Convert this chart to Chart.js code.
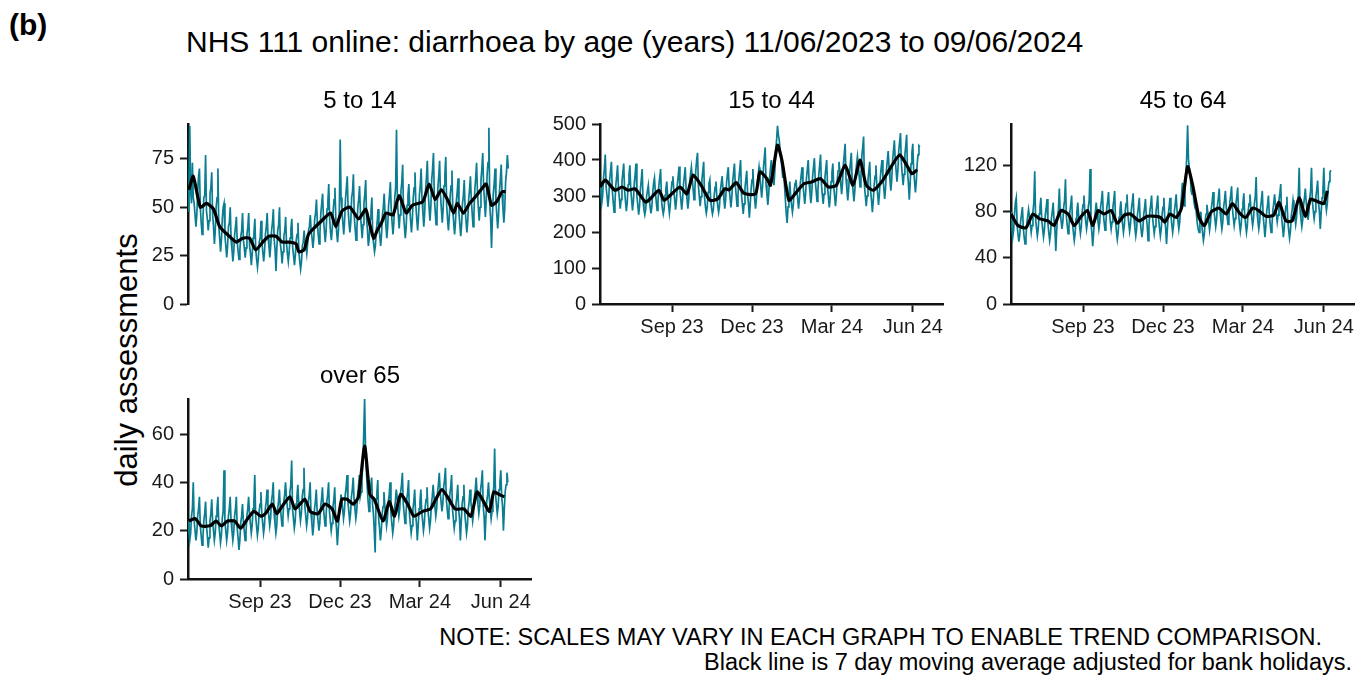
<!DOCTYPE html>
<html>
<head>
<meta charset="utf-8">
<script src="https://cdn.jsdelivr.net/npm/chart.js@4.4.0/dist/chart.umd.min.js"></script>
<style>
  body { margin: 0; width: 1357px; height: 678px; background: #fff; position: relative; overflow: hidden;
         font-family: "Liberation Sans", Arial, sans-serif; color: #000; }
  .t { position: absolute; white-space: nowrap; line-height: 1.15; }
  canvas { position: absolute; }
</style>
</head>
<body>
<div class="t" style="left:9px;top:8px;font-size:30px;font-weight:bold">(b)</div>
<div class="t" style="left:186px;top:25px;font-size:30px">NHS 111 online: diarrhoea by age (years) 11/06/2023 to 09/06/2024</div>
<div class="t" style="left:127px;top:360px;font-size:31px;transform:translate(-50%,-50%) rotate(-90deg)">daily assessments</div>
<div class="t" style="right:35px;top:624px;font-size:23.5px">NOTE: SCALES MAY VARY IN EACH GRAPH TO ENABLE TREND COMPARISON.</div>
<div class="t" style="right:5px;top:649px;font-size:23.5px">Black line is 7 day moving average adjusted for bank holidays.</div>

<script>
// day index 0 = 11/06/2023, last = 09/06/2024 (364)
const tickDays = [82, 173, 264, 356];
const tickLabels = ['Sep 23', 'Dec 23', 'Mar 24', 'Jun 24'];

// 5 to 14 -- daily assessments (one row per week)
const age5to14 = [
  48,60,92,58,52,73,55,  52,46,40,46,58,66,70,  50,42,36,44,55,56,77,  48,44,38,43,57,60,68,
  46,40,31,38,50,55,70,  40,34,27,33,44,50,52,  35,30,24,30,40,42,50,  33,28,22,27,36,40,45,
  32,27,23,28,35,38,47,  33,29,24,29,36,40,47,  30,26,20,26,34,37,44,  28,23,19,24,32,34,43,
  32,27,22,27,36,40,47,  34,30,24,30,38,42,49,  33,28,17,29,38,41,50,  31,27,21,27,35,38,45,
  31,26,22,27,34,39,44,  29,25,20,25,33,36,42,  27,22,18,22,30,32,38,  31,30,26,31,38,40,46,
  38,34,29,34,44,47,54,  42,36,31,37,47,52,57,  44,38,32,38,49,53,62,  44,37,33,39,48,54,60,
  44,37,32,38,48,85,55,  48,42,36,43,54,60,66,  49,42,37,42,55,58,67,  45,39,33,39,50,54,61,
  47,40,34,41,52,57,64,  44,38,30,34,44,48,55,  35,31,27,30,38,42,49,  40,35,30,36,46,50,57,
  46,40,34,40,51,56,63,  49,42,36,42,55,60,90,  53,46,39,46,58,63,72,  46,40,34,40,51,56,62,
  50,43,37,44,55,60,68,  51,44,38,45,56,61,70,  54,47,40,47,59,65,74,  58,50,43,50,64,70,78,
  55,48,41,48,60,66,74,  56,49,42,49,61,67,76,  51,44,38,45,56,61,69,  48,42,36,42,53,58,65,
  47,41,35,41,52,56,64,  49,43,37,43,54,59,66,  54,47,40,47,59,65,73,  58,50,43,50,64,70,78,
  61,53,45,53,67,73,91,  51,44,29,45,57,62,70,  53,46,39,46,58,64,72,  57,49,42,49,63,68,77,
  70
];
const age5to14MaDays = [1,6,14,21,29,36,47,55,62,70,77,85,92,100,107,115,123,126,132,137,145,152,162,168,175,184,194,202,205,211,215,220,225,233,240,248,255,267,274,281,288,296,302,306,313,320,326,333,339,345,351,357,361];
const age5to14MaVals = [59,66,50,52,49,40,35,32,34,34,28,32,35,35,32,32,31,27,28,36,40,43,47,40,48,50,44,49,44,34,38,42,47,46,56,47,51,53,62,54,59,53,47,52,47,52,55,59,62,51,53,58,58];

// 15 to 44
const age15to44 = [
  330,310,280,300,350,375,415,  325,300,270,295,345,370,395,  315,285,255,280,330,355,385,  320,295,265,290,340,365,390,
  315,285,258,282,332,358,385,  318,290,260,285,335,360,390,  300,275,248,272,320,345,375,  285,262,248,262,298,315,330,
  295,270,252,270,310,335,350,  312,285,260,285,330,352,375,  288,265,250,265,302,320,340,  300,275,252,275,316,340,355,
  316,290,262,288,332,355,382,  315,290,262,290,333,356,380,  318,292,265,290,335,360,380,  350,318,290,320,370,400,420,
  328,300,272,298,345,370,395,  295,270,252,268,310,335,345,  288,265,250,262,302,325,340,  298,272,255,272,315,335,355,
  318,292,265,290,335,360,380,  322,296,268,295,340,365,390,  330,302,272,300,348,372,400,  305,278,250,278,322,346,370,
  304,278,240,278,320,345,375,  318,292,265,292,335,358,380,  355,325,295,325,378,405,435,  332,305,275,305,350,375,400,
  370,350,330,370,430,455,495,  470,455,430,400,380,350,380,  330,290,250,225,270,300,340,  300,275,255,275,315,335,345,
  318,292,265,292,335,358,380,  332,305,278,305,350,375,400,  336,308,280,308,355,380,405,  342,315,285,315,360,385,415,
  333,305,278,305,352,376,400,  324,296,268,296,340,365,390,  328,300,272,300,345,370,395,  368,335,305,335,388,415,445,
  348,318,288,318,365,392,420,  342,315,285,315,362,388,410,  385,355,325,355,410,435,465,  328,300,272,300,345,370,395,
  315,288,255,285,330,355,385,  332,305,275,305,350,378,400,  352,322,292,322,372,398,425,  378,345,315,345,398,425,455,
  402,370,340,370,425,450,475,  392,360,330,360,415,440,470,  368,335,290,335,390,420,445,  370,340,310,340,390,415,440,
  437
];
const age15to44MaDays = [0,6,17,25,32,40,52,59,67,73,80,91,99,106,115,125,134,142,147,155,164,177,182,190,194,202,207,215,222,232,241,251,260,269,279,288,296,303,311,322,330,341,349,355,361];
const age15to44MaVals = [325,344,316,325,316,320,283,297,316,288,302,325,306,358,330,288,292,320,317,337,307,306,367,348,330,441,400,288,306,334,339,348,325,330,386,330,400,330,316,344,376,414,386,362,373];

// 45 to 64
const age45to64 = [
  80,66,58,64,78,88,92,  68,60,54,60,72,78,84,  66,58,52,57,70,76,82,  76,69,62,68,80,88,115,
  74,66,59,65,78,84,92,  73,65,58,64,77,83,91,  70,62,55,61,74,80,88,  72,64,46,63,76,82,100,
  80,72,65,71,84,90,108,  76,68,61,67,80,86,94,  70,62,55,61,74,80,88,  76,68,61,67,80,86,94,
  80,72,65,71,84,90,117,  70,62,50,61,74,80,88,  80,72,65,71,84,90,98,  79,71,64,70,83,89,97,
  80,72,65,71,84,90,98,  71,63,56,62,75,81,89,  77,69,62,68,81,87,95,  78,70,63,69,82,88,96,
  74,66,59,65,78,84,92,  73,65,58,64,77,83,91,  76,68,55,67,80,86,94,  76,68,61,67,80,86,94,
  74,66,59,65,78,84,92,  74,66,52,65,78,84,92,  77,69,62,68,81,87,95,  80,72,65,71,84,92,105,
  90,85,100,110,128,155,125,  118,112,98,95,100,90,85,  88,78,70,65,62,72,80,  70,62,55,60,72,78,86,
  79,71,64,70,83,89,97,  82,74,67,73,86,92,100,  80,72,65,71,84,90,98,  84,76,69,75,88,94,102,
  83,75,68,74,87,93,101,  78,70,63,69,82,88,96,  77,69,62,68,81,87,95,  83,75,68,74,87,93,110,
  80,72,65,71,84,90,98,  76,68,58,67,80,86,94,  77,69,62,68,81,87,95,  86,78,71,77,90,96,104,
  75,67,58,66,79,85,93,  72,64,57,63,76,82,90,  84,76,69,75,88,94,118,  82,74,67,73,86,92,100,
  88,80,73,79,92,98,118,  89,81,74,80,93,99,107,  88,80,65,79,92,98,118,  96,88,81,87,100,106,114,
  116
];
const age45to64MaDays = [0,8,17,25,32,42,49,57,65,72,80,87,93,99,106,114,121,129,136,146,155,165,170,175,181,188,194,201,207,214,220,228,237,245,252,260,267,275,282,290,299,305,313,320,328,335,341,348,356,360];
const age45to64MaVals = [78,68,66,78,74,72,68,81,78,68,76,81,68,81,78,81,70,77,78,72,76,76,75,71,78,75,83,119,102,75,68,80,83,78,87,79,75,83,81,76,77,88,72,72,92,76,91,89,87,98];

// over 65
const over65 = [
  24,20,16,19,26,29,40,  24,20,16,19,26,29,34,  22,18,14,17,24,27,32,  22,18,13,17,24,27,33,
  24,20,16,19,26,29,34,  23,19,15,18,25,28,45,  24,20,16,19,26,29,34,  24,20,16,19,26,29,34,
  21,17,12,16,23,26,31,  24,20,16,19,26,29,34,  27,23,19,22,29,32,43,  26,22,18,21,28,31,36,
  27,23,19,22,29,32,37,  30,26,22,25,32,35,40,  27,23,19,22,29,32,37,  30,26,22,25,32,35,40,
  34,30,26,29,36,39,49,  29,25,21,24,31,34,39,  32,28,24,27,34,37,46,  30,26,22,25,32,35,40,
  27,23,18,22,29,32,37,  28,24,20,23,30,33,38,  30,26,22,25,32,35,40,  28,24,20,23,30,33,38,
  25,21,14,20,27,30,35,  33,29,25,28,35,38,43,  32,28,24,27,34,37,42,  33,29,25,28,35,38,43,
  34,36,42,48,60,75,55,  45,38,32,28,35,38,42,  31,27,20,11,33,36,41,  25,21,16,20,27,30,36,
  30,26,22,25,32,35,40,  27,23,19,22,29,32,37,  34,30,26,29,36,39,44,  31,27,23,26,33,36,41,
  27,23,19,22,29,32,37,  27,23,16,22,29,32,37,  28,24,20,23,30,33,38,  29,25,21,24,31,34,39,
  34,30,26,29,36,39,44,  36,32,28,31,38,41,46,  33,29,25,28,35,38,43,  29,25,21,24,31,34,39,
  29,25,16,24,31,34,39,  27,23,19,22,29,32,37,  32,28,24,27,34,37,42,  35,31,27,30,37,40,45,
  30,26,16,25,32,35,40,  33,29,25,28,35,38,54,  35,31,27,30,37,40,45,  34,30,20,29,36,39,44,
  40
];
const over65MaDays = [1,8,15,25,32,38,45,53,60,68,75,83,88,96,101,107,116,122,133,139,148,156,164,170,175,181,188,194,201,207,212,222,229,235,242,250,257,267,276,282,289,297,304,314,322,329,335,343,348,354,360];
const over65MaVals = [24,25,22,22,24,22,24,24,21,25,28,26,27,31,27,30,34,29,33,28,27,31,29,24,33,33,31,34,55,35,33,24,32,26,35,31,26,28,29,33,37,33,29,29,26,36,33,28,36,35,34];

const panels = [
  { title: '5 to 14',  daily: age5to14,  maDays: age5to14MaDays,  maVals: age5to14MaVals,  yMax: 93,  yTicks: [0,25,50,75],        left: 188,  top: 124, xAxis: false },
  { title: '15 to 44', daily: age15to44, maDays: age15to44MaDays, maVals: age15to44MaVals, yMax: 500, yTicks: [0,100,200,300,400,500], left: 599.5, top: 124, xAxis: true },
  { title: '45 to 64', daily: age45to64, maDays: age45to64MaDays, maVals: age45to64MaVals, yMax: 156, yTicks: [0,40,80,120],       left: 1011, top: 124, xAxis: true },
  { title: 'over 65',  daily: over65,    maDays: over65MaDays,    maVals: over65MaVals,    yMax: 74.5, yTicks: [0,20,40,60],       left: 188,  top: 399, xAxis: true }
];

const PW = 344, PH = 180, YW = 60, XH = 46;
const tickFont = { family: '"Liberation Sans", Arial, sans-serif', size: 20 };

panels.forEach(p => {
  const cv = document.createElement('canvas');
  let w = YW + PW + 10;
  let h = 14 + PH + (p.xAxis ? XH : 14);
  cv.width = w; cv.height = h;
  cv.style.width = w + 'px'; cv.style.height = h + 'px';
  document.body.appendChild(cv);

  const ttl = document.createElement('div');
  ttl.className = 't';
  ttl.textContent = p.title;
  ttl.style.fontSize = '24px';
  ttl.style.left = (p.left + PW / 2) + 'px';
  ttl.style.top = (p.top - 38) + 'px';
  ttl.style.transform = 'translateX(-50%)';
  document.body.appendChild(ttl);

  const chart = new Chart(cv, {
    type: 'line',
    data: {
      datasets: [
        {
          data: p.maDays.map((d, i) => ({ x: d, y: p.maVals[i] })),
          borderColor: '#000', borderWidth: 3.2, pointRadius: 0, tension: 0.2, order: 0
        },
        {
          data: p.daily.map((v, i) => ({ x: i, y: v })),
          borderColor: '#0a7d91', borderWidth: 1.7, pointRadius: 0, tension: 0, order: 1
        }
      ]
    },
    options: {
      responsive: false, maintainAspectRatio: false, animation: false, devicePixelRatio: 1,
      layout: { padding: { top: 2, right: 2, left: 0, bottom: 0 } },
      plugins: { legend: { display: false }, tooltip: { enabled: false } },
      scales: {
        x: {
          type: 'linear', min: 0, max: 391, display: p.xAxis,
          afterFit: s => { if (p.xAxis) s.height = XH; },
          afterBuildTicks: s => { s.ticks = tickDays.map(v => ({ value: v })); },
          ticks: { callback: v => tickLabels[tickDays.indexOf(v)], color: '#1a1a1a', font: tickFont, padding: 3, maxRotation: 0, autoSkip: false },
          grid: { drawOnChartArea: false, tickLength: 8, tickWidth: 2, tickColor: '#1a1a1a' },
          border: { color: '#111', width: 2.5 }
        },
        y: {
          min: 0, max: p.yMax,
          afterFit: s => { s.width = YW; },
          afterBuildTicks: s => { s.ticks = p.yTicks.map(v => ({ value: v })); },
          ticks: { color: '#1a1a1a', font: tickFont, padding: 6 },
          grid: { drawOnChartArea: false, tickLength: 8, tickWidth: 2, tickColor: '#1a1a1a' },
          border: { color: '#111', width: 2.5 }
        }
      }
    }
  });

  // grow the canvas so the plot area is exactly PW x PH, then line it up
  const ca = chart.chartArea;
  const dw = PW - (ca.right - ca.left), dh = PH - (ca.bottom - ca.top);
  if (Math.abs(dw) > 0.5 || Math.abs(dh) > 0.5) {
    w = Math.round(w + dw); h = Math.round(h + dh);
    cv.style.width = w + 'px'; cv.style.height = h + 'px';
    chart.resize(w, h);
  }
  const ca2 = chart.chartArea;
  cv.style.left = (p.left - ca2.left) + 'px';
  cv.style.top = (p.top - ca2.top) + 'px';
});
</script>
</body>
</html>
